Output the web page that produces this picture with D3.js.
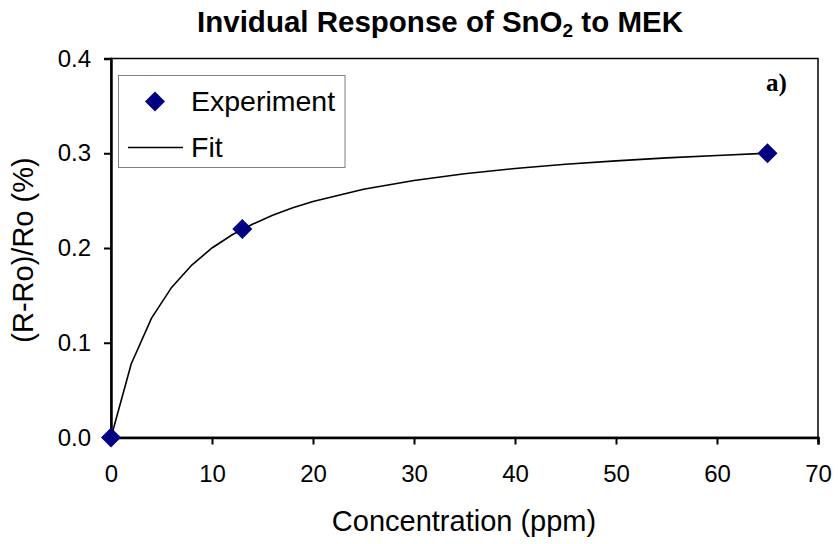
<!DOCTYPE html>
<html><head><meta charset="utf-8">
<script src="https://cdn.jsdelivr.net/npm/d3@7"></script>
<style>body{margin:0;background:#fff}svg{display:block}text{font-family:"Liberation Sans",Arial,sans-serif}</style>
</head><body>
<script>
const expX = [0, 13, 65];
const expY = [0, 0.22, 0.30];
const fitX = [0, 2, 4, 6, 8, 10, 12, 14, 16, 18, 20, 25, 30, 35, 40, 45, 50, 55, 60, 65];
const fitY = [0, 0.0776, 0.1257, 0.1584, 0.182, 0.2, 0.214, 0.225, 0.2346, 0.2424, 0.249, 0.262, 0.2712, 0.2783, 0.2839, 0.2884, 0.292, 0.2951, 0.2977, 0.30];
const xTicks = [0, 10, 20, 30, 40, 50, 60, 70];
const yTicks = [0, 0.1, 0.2, 0.3, 0.4];

const W = 838, H = 544;
const FONT = '"Liberation Sans",Arial,sans-serif';
const svg = d3.select("body").append("svg").attr("width", W).attr("height", H);
const x = d3.scaleLinear().domain([0, 70]).range([111, 818]);
const y = d3.scaleLinear().domain([0, 0.4]).range([437.5, 58.5]);

// frame
svg.append("rect").attr("x", 111).attr("y", 58.5).attr("width", 707).attr("height", 379)
  .attr("fill", "none").attr("stroke", "#000").attr("stroke-width", 1.5);

const xAxis = svg.append("g").attr("transform", "translate(0,437.5)")
  .call(d3.axisBottom(x).tickValues(xTicks).tickSize(7).tickPadding(20).tickFormat(d3.format("d")));
const yAxis = svg.append("g").attr("transform", "translate(111,0)")
  .call(d3.axisLeft(y).tickValues(yTicks).tickSize(7).tickPadding(13).tickFormat(d3.format(".1f")));
[xAxis, yAxis].forEach(g => {
  g.attr("font-size", null).attr("font-family", null);
  g.select(".domain").attr("stroke", "#000").attr("stroke-width", 2.5);
  g.selectAll(".tick line").attr("stroke", "#000").attr("stroke-width", 2);
  g.selectAll(".tick text").attr("fill", "#000").style("font-size", "24px").style("font-family", FONT);
});

// fit line
const line = d3.line().x((d, i) => x(fitX[i])).y((d, i) => y(fitY[i]));
svg.append("path").datum(fitY).attr("d", line).attr("fill", "none").attr("stroke", "#000").attr("stroke-width", 1.6);

// experimental points
const diamond = d3.symbol().type(d3.symbolSquare).size(200);
svg.selectAll(".pt").data(expY).enter().append("path")
  .attr("d", diamond)
  .attr("transform", (d, i) => `translate(${x(expX[i])},${y(d)}) rotate(45)`)
  .attr("fill", "#000080");

// legend
svg.append("rect").attr("x", 118.5).attr("y", 75.5).attr("width", 226.5).attr("height", 92)
  .attr("fill", "#fff").attr("stroke", "#808080").attr("stroke-width", 1);
svg.append("path").attr("d", diamond).attr("transform", "translate(155,101.5) rotate(45)").attr("fill", "#000080");
svg.append("text").attr("x", 191).attr("y", 110.5).style("font-size", "28.5px").text("Experiment");
svg.append("line").attr("x1", 128).attr("x2", 183).attr("y1", 147.5).attr("y2", 147.5).attr("stroke", "#000").attr("stroke-width", 1.6);
svg.append("text").attr("x", 191).attr("y", 156.5).style("font-size", "28.5px").text("Fit");

// annotation
svg.append("text").attr("x", 766).attr("y", 90.5).style("font-family", '"Liberation Serif","Times New Roman",serif')
  .style("font-weight", "bold").style("font-size", "25px").text("a)");

// title
const t = svg.append("text").attr("x", 440).attr("y", 32).attr("text-anchor", "middle")
  .style("font-weight", "bold").style("font-size", "29.5px");
t.append("tspan").text("Invidual Response of SnO");
t.append("tspan").attr("dy", 5).style("font-size", "19px").text("2");
t.append("tspan").attr("dy", -5).text(" to MEK");

// axis titles
svg.append("text").attr("x", 464).attr("y", 531).attr("text-anchor", "middle").style("font-size", "29px").text("Concentration (ppm)");
svg.append("text").attr("transform", "translate(33,250) rotate(-90)").attr("text-anchor", "middle").style("font-size", "29px").text("(R-Ro)/Ro (%)");
</script>
</body></html>
